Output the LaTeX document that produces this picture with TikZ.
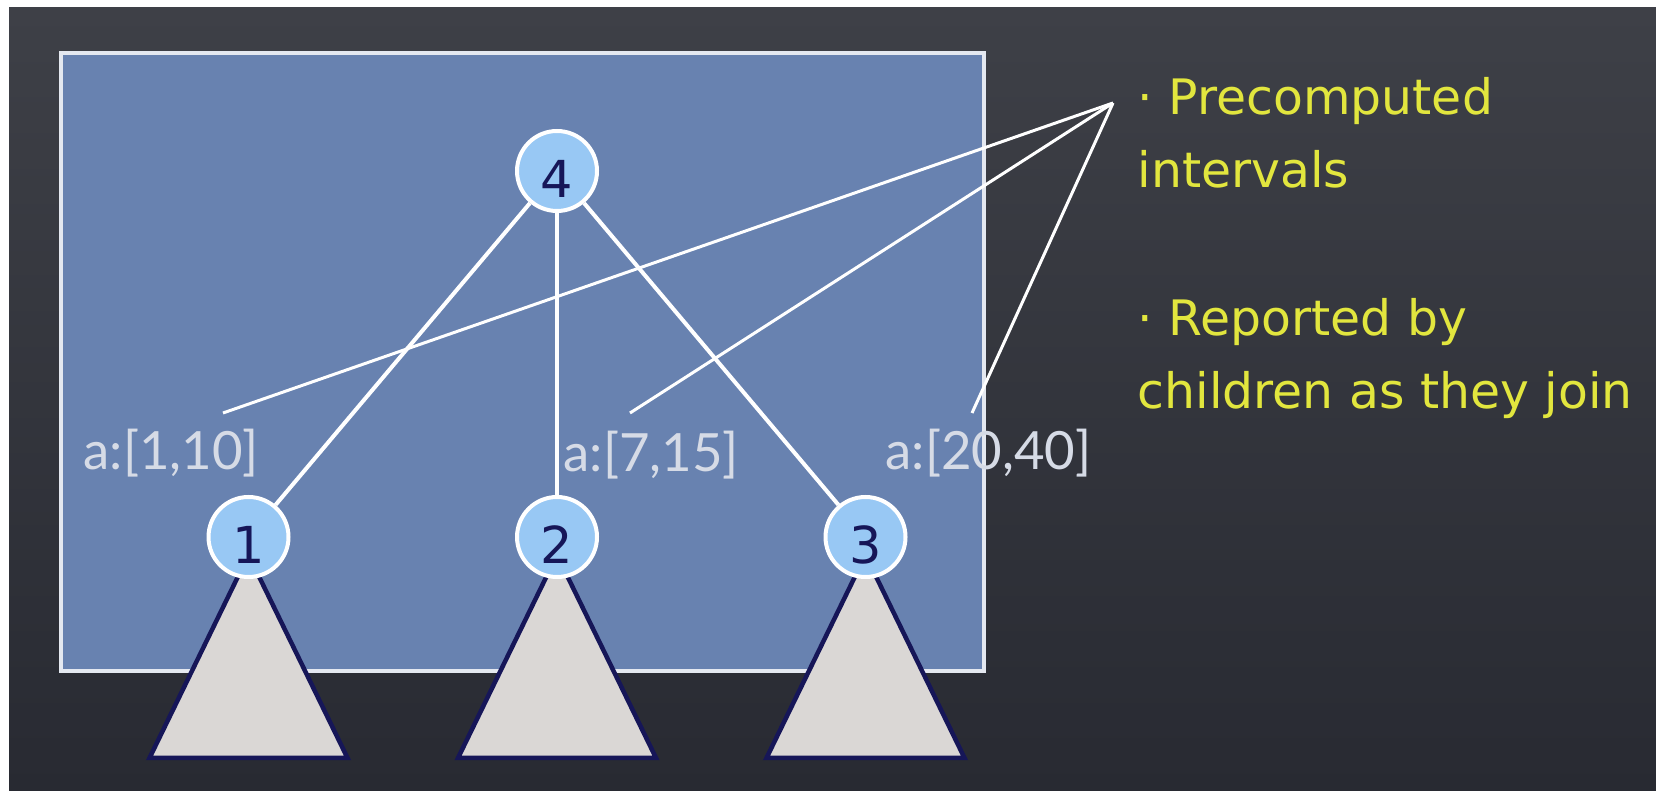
\documentclass[tikz,border=0pt]{standalone}
\usepackage{fontspec}
\newfontfamily\notefont{DejaVu Sans}
\newfontfamily\ivfont{Lato}
\usetikzlibrary{positioning,backgrounds}

\definecolor{boardtop}{RGB}{62,64,71}
\definecolor{boardbot}{RGB}{40,42,50}
\definecolor{panel}{RGB}{104,130,176}
\definecolor{rim}{RGB}{228,232,240}
\definecolor{bubble}{RGB}{152,200,244}
\definecolor{navy}{RGB}{22,22,88}
\definecolor{subtree}{RGB}{218,215,213}
\definecolor{chalk}{RGB}{226,230,62}
\definecolor{ivgray}{RGB}{214,219,230}

\begin{document}
\begin{tikzpicture}[x=0.1mm, y=-0.1mm,
  node distance=28.2mm and 22.45mm,
  tnode/.style={circle, draw=white, line width=0.4mm, fill=bubble, minimum size=8mm, inner sep=0pt,
                text=navy, font=\notefont\fontsize{14.5}{14.5}\selectfont, text height=5.3mm, text depth=0pt},
  edge/.style={white, line width=0.4mm},
  ptr/.style={white, line width=0.3mm},
  ival/.style={text=ivgray, font=\ivfont\fontsize{15}{15}\selectfont, inner sep=0pt, anchor=west},
  note/.style={text=chalk, font=\notefont\fontsize{13.9}{21}\selectfont, align=left, inner sep=0pt, anchor=base west},
  sub/.style={fill=subtree, draw=navy, line width=0.45mm}
]
% board and panel
\begin{scope}[on background layer]
  \fill[white] (0,0) rectangle (1656,791);
  \shade[top color=boardtop, bottom color=boardbot] (9,8) rectangle (1656,791);
  \draw[rim, line width=0.4mm, fill=panel] (61,53) rectangle (984,671);
\end{scope}

% tree
\node[tnode] (n4) at (557,171) {4};
\node[tnode] (n2) [below=of n4] {2};
\node[tnode] (n1) [left=of n2] {1};
\node[tnode] (n3) [right=of n2] {3};

\begin{scope}[on background layer]
  \foreach \t in {n1,n2,n3}
    \draw[sub] ([yshift=-1.8mm]\t.center) -- ++(-99,203) -- ++(198,0) -- cycle;
\end{scope}

\draw[edge] (n4) -- (n1);
\draw[edge] (n4) -- (n2);
\draw[edge] (n4) -- (n3);

% intervals
\node[ival] (iv1) at (83,453) {a:[1,10]};
\node[ival] (iv2) at (563,455) {a:[7,15]};
\node[ival] (iv3) at (885,453) {a:[20,40]};

\coordinate (tip) at (1113,103);
\coordinate (p1) at (223,413);
\coordinate (p2) at (630,413);
\coordinate (p3) at (972,413);
\draw[ptr] (tip) -- (p1);
\draw[ptr] (tip) -- (p2);
\draw[ptr] (tip) -- (p3);

% notes (base = last line)
\node[note] (pre) at (1137,188) {· Precomputed\\intervals};
\node[note] (rep) at (1137,409) {· Reported by\\children as they join};
\end{tikzpicture}
\end{document}
